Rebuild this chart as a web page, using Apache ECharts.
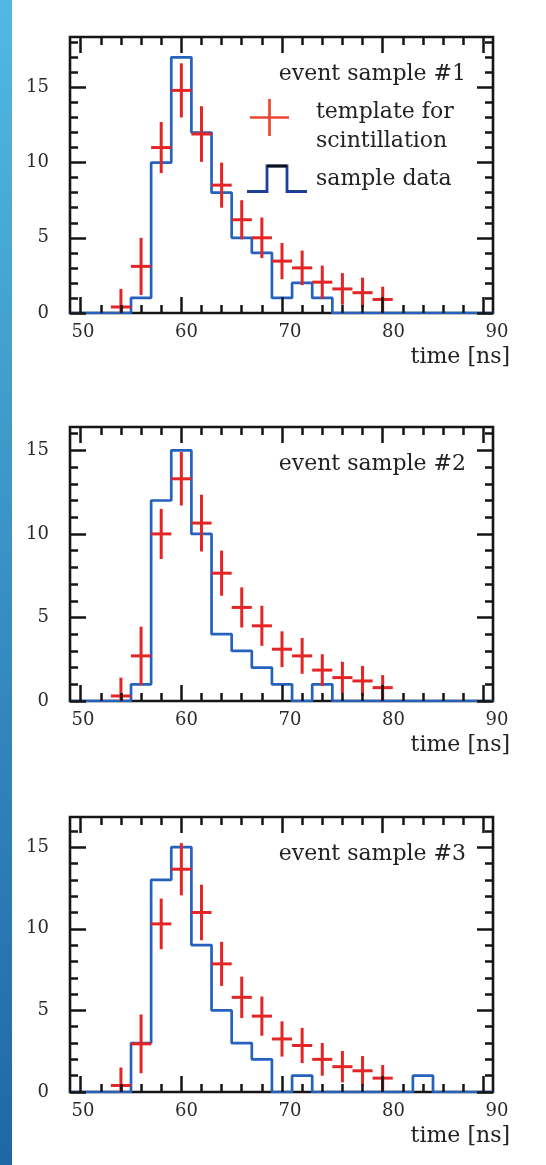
<!DOCTYPE html>
<html><head><meta charset="utf-8">
<script src="https://cdn.jsdelivr.net/npm/echarts@6/dist/echarts.min.js"></script>
<style>html,body{margin:0;padding:0;background:#fff}#c{width:546px;height:1165px}</style>
</head><body><div id="c"></div>
<script>
// ---------------- data ----------------
const binCenters = [50,52,54,56,58,60,62,64,66,68,70,72,74,76,78,80,82,84,86,88,90];
const sample1 = [0,0,0,1,10,17,12,8,5,4,1,2,1,0,0,0,0,0,0,0,0];
const sample2 = [0,0,0,1,12,15,10,4,3,2,1,0,1,0,0,0,0,0,0,0,0];
const sample3 = [0,0,0,3,13,15,9,5,3,2,0,1,0,0,0,0,0,1,0,0,0];

const templateX = [54,56,58,60,62,64,66,68,70,72,74,76,78,80];
const template1 = [0.4,3.1,11.0,14.8,11.9,8.5,6.2,5.0,3.45,3.0,2.05,1.6,1.35,0.9];
const templateErr1 = [1.2,1.9,1.7,1.8,1.85,1.5,1.3,1.35,1.2,1.15,1.1,1.05,1.0,0.85];
const template2 = [0.3,2.7,10.0,13.3,10.65,7.65,5.6,4.5,3.1,2.7,1.85,1.4,1.2,0.8];
const templateErr2 = [1.1,1.75,1.5,1.6,1.7,1.35,1.2,1.2,1.07,1.07,0.95,0.95,0.9,0.75];
const template3 = [0.4,2.95,10.3,13.65,11.0,7.85,5.8,4.65,3.25,2.85,2.0,1.55,1.3,0.85];
const templateErr3 = [1.1,1.8,1.55,1.6,1.7,1.35,1.27,1.2,1.08,1.08,1.0,0.96,0.9,0.8];

const xTickLabels = [50,60,70,80,90];
const yTickLabels = [0,5,10,15];
const panelTitles = ['event sample #1','event sample #2','event sample #3'];
const axisTitle = 'time [ns]';
const legendTemplate = ['template for','scintillation'];
const legendSample = 'sample data';

// ---------------- layout / style ----------------
const FONT = 'DejaVu Serif';
const RED = '#e42525', BLUE = '#2562bd', INK = '#151515';
const X_MIN = 48.94, X_MAX = 90.96, BIN_W = 2, XERR = 1.0;
const GRID_LEFT = 70, GRID_RIGHT = 53;
const panels = [
  {top: 37,  height: 276, yMax: 18.35, counts: sample1, tv: template1, te: templateErr1},
  {top: 427, height: 274, yMax: 16.4,  counts: sample2, tv: template2, te: templateErr2},
  {top: 817, height: 275, yMax: 16.85, counts: sample3, tv: template3, te: templateErr3}
];

function steps(a, b, s) { const r = []; for (let v = a; v <= b + 1e-9; v += s) r.push(v); return r; }

const gMain = [], gLab = [], xMain = [], xLab = [], yMain = [], yLab = [], series = [], graphics = [];

function xAx(g, pos, vals, len) {
  return {type: 'value', gridIndex: g, position: pos, min: X_MIN, max: X_MAX, z: 10,
    axisLine: {show: false, onZero: false},
    axisTick: {show: true, inside: true, length: len, customValues: vals, lineStyle: {color: INK, width: 2.5}},
    axisLabel: {show: false}, splitLine: {show: false}};
}
function yAx(g, pos, max, vals, len, labels) {
  return {type: 'value', gridIndex: g, position: pos, min: 0, max: max, z: 10,
    axisLine: {show: false, onZero: false},
    axisTick: {show: true, inside: true, length: len, customValues: vals, lineStyle: {color: INK, width: 2.5}},
    axisLabel: labels ? {show: true, customValues: labels, margin: 21, fontFamily: FONT, fontSize: 18, color: '#2a2a2a'} : {show: false},
    splitLine: {show: false}};
}

panels.forEach((p, i) => {
  gMain.push({left: GRID_LEFT, right: GRID_RIGHT, top: p.top, height: p.height,
    show: true, borderColor: INK, borderWidth: 2.6, backgroundColor: 'transparent'});
  const majX = xTickLabels, minX = steps(50, 90, 2);
  xMain.push(xAx(i, 'bottom', majX, 16), xAx(i, 'bottom', minX, 8), xAx(i, 'top', majX, 16), xAx(i, 'top', minX, 8));
  const minY = steps(1, Math.floor(p.yMax), 1);
  yMain.push(yAx(i, 'left', p.yMax, yTickLabels, 16, yTickLabels), yAx(i, 'left', p.yMax, minY, 8),
             yAx(i, 'right', p.yMax, yTickLabels, 16), yAx(i, 'right', p.yMax, minY, 8));

  // histogram as step line
  const stepData = binCenters.map((c, k) => [c - BIN_W / 2, p.counts[k]]);
  stepData.push([binCenters[binCenters.length - 1] + BIN_W / 2, p.counts[p.counts.length - 1]]);
  series.push({type: 'line', xAxisIndex: 4 * i, yAxisIndex: 4 * i, data: stepData, step: 'end',
    symbol: 'none', lineStyle: {color: BLUE, width: 2.7}, z: 3, clip: true, animation: false});

  // template crosses
  series.push({type: 'custom', xAxisIndex: 4 * i, yAxisIndex: 4 * i, z: 4, clip: true, animation: false,
    data: templateX.map((x, k) => [x, p.tv[k], p.te[k]]),
    renderItem: (params, api) => {
      const x = api.value(0), y = api.value(1), e = api.value(2);
      const l = api.coord([x - XERR, y]), r = api.coord([x + XERR, y]);
      const t = api.coord([x, y + e]), b = api.coord([x, Math.max(0, y - e)]);
      const st = {stroke: RED, lineWidth: 3};
      return {type: 'group', children: [
        {type: 'line', shape: {x1: l[0], y1: l[1], x2: r[0], y2: r[1]}, style: st},
        {type: 'line', shape: {x1: t[0], y1: t[1], x2: b[0], y2: b[1]}, style: st}
      ]};
    }});

  // label-only axis (tick labels sit on a slightly wider scale in the original)
  gLab.push({left: 83, right: 49, top: p.top, height: p.height});
  xLab.push({type: 'value', gridIndex: 3 + i, position: 'bottom', min: 50, max: 90, interval: 10,
    axisLine: {show: false, onZero: false}, axisTick: {show: false}, splitLine: {show: false},
    axisLabel: {show: true, margin: 10, fontFamily: FONT, fontSize: 18, color: '#2a2a2a', showMinLabel: true, showMaxLabel: true}});
  yLab.push({type: 'value', gridIndex: 3 + i, show: false, min: 0, max: 1});

  // texts
  const bottom = p.top + p.height;
  graphics.push({type: 'text', right: 546 - 466, top: p.top + 26, style: {text: panelTitles[i], font: '22px "DejaVu Serif"', fill: '#222'}});
  graphics.push({type: 'text', right: 546 - 510, top: bottom + 33, style: {text: axisTitle, font: '22px "DejaVu Serif"', fill: '#222'}});
});

// legend in panel 1
graphics.push({type: 'text', left: 316, top: 101, style: {text: legendTemplate[0], font: '22px "DejaVu Serif"', fill: '#222'}});
graphics.push({type: 'text', left: 316, top: 130, style: {text: legendTemplate[1], font: '22px "DejaVu Serif"', fill: '#222'}});
graphics.push({type: 'text', left: 316, top: 168, style: {text: legendSample, font: '22px "DejaVu Serif"', fill: '#222'}});
graphics.push({type: 'line', shape: {x1: 250, y1: 117.5, x2: 289, y2: 117.5}, style: {stroke: '#ee4530', lineWidth: 2.7}});
graphics.push({type: 'line', shape: {x1: 269.5, y1: 99, x2: 269.5, y2: 136}, style: {stroke: '#ee4530', lineWidth: 2.7}});
graphics.push({type: 'polyline', shape: {points: [[247,191.5],[267,191.5],[267,166],[287,166],[287,191.5],[307,191.5]]}, style: {stroke: '#1d3f96', lineWidth: 2.8, fill: null}});
graphics.push({type: 'line', shape: {x1: 267, y1: 166, x2: 287, y2: 166}, style: {stroke: '#111', lineWidth: 2.8}});

// left decorative strip
graphics.push({type: 'rect', left: 0, top: 0, shape: {width: 12, height: 1165}, z: -1,
  style: {fill: new echarts.graphic.LinearGradient(0, 0, 0, 1, [{offset: 0, color: '#52b8e2'}, {offset: 1, color: '#1f67a6'}])}});

const chart = echarts.init(document.getElementById('c'), null, {renderer: 'canvas'});
chart.setOption({
  animation: false,
  backgroundColor: '#ffffff',
  grid: gMain.concat(gLab),
  xAxis: xMain.concat(xLab),
  yAxis: yMain.concat(yLab),
  series: series,
  graphic: graphics
});
</script></body></html>
